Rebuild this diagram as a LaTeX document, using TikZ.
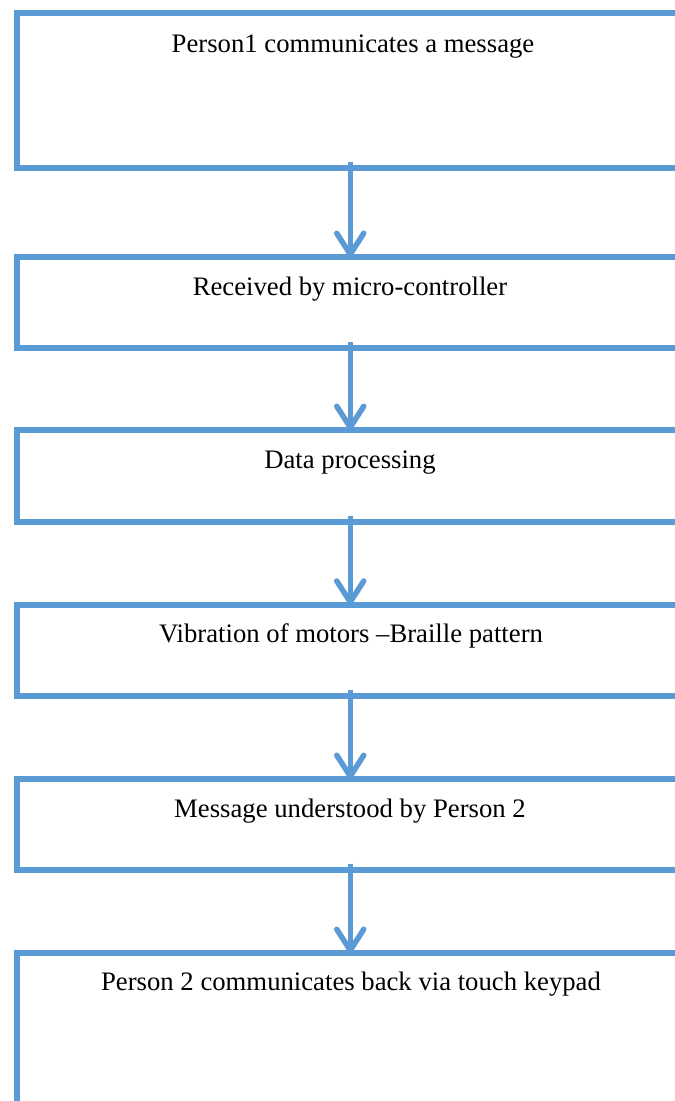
\documentclass[tikz,border=0pt]{standalone}
\usepackage{fontspec}
\setmainfont{Liberation Serif}
\usetikzlibrary{arrows.meta}
\definecolor{boxblue}{HTML}{5B9BD5}
\tikzset{
  flowbox/.style={draw=boxblue, line width=6pt, rectangle, inner sep=0pt, outer sep=0pt, minimum width=667.5pt},
  flowtext/.style={anchor=base, inner sep=0pt, font=\fontsize{26.7}{32}\selectfont},
  flowarrow/.style={draw=boxblue, line width=5.5pt, -{Straight Barb[length=21pt,width=27pt,round]}}
}
\begin{document}
\begin{tikzpicture}[x=1pt,y=-1pt]
\useasboundingbox (0,0) rectangle (675,1101);
\clip (0,0) rectangle (675,1101);
\node[flowbox, minimum height=155pt] (b1) at (350.25,90.5) {};
\node[flowbox, minimum height=91pt] (b2) at (350.25,302.5) {};
\node[flowbox, minimum height=92pt] (b3) at (350.25,476) {};
\node[flowbox, minimum height=91.3pt] (b4) at (350.25,650.35) {};
\node[flowbox, minimum height=90.7pt] (b5) at (350.25,824.35) {};
\node[flowbox, minimum height=200pt] (b6) at (350.25,1053) {};
\node[flowtext] (t1) at (353,52) {Person1 communicates a message};
\node[flowtext] (t2) at (350,295) {Received by micro-controller};
\node[flowtext] (t3) at (350,468) {Data processing};
\node[flowtext] (t4) at (351,642) {Vibration of motors –Braille pattern};
\node[flowtext] (t5) at (350,817) {Message understood by Person 2};
\node[flowtext] (t6) at (351,990) {Person 2 communicates back via touch keypad};
\draw[flowarrow] ([yshift=6pt]b1.south) -- (b2.north);
\draw[flowarrow] ([yshift=6pt]b2.south) -- (b3.north);
\draw[flowarrow] ([yshift=6pt]b3.south) -- (b4.north);
\draw[flowarrow] ([yshift=6pt]b4.south) -- (b5.north);
\draw[flowarrow] ([yshift=6pt]b5.south) -- (b6.north);
\end{tikzpicture}
\end{document}
